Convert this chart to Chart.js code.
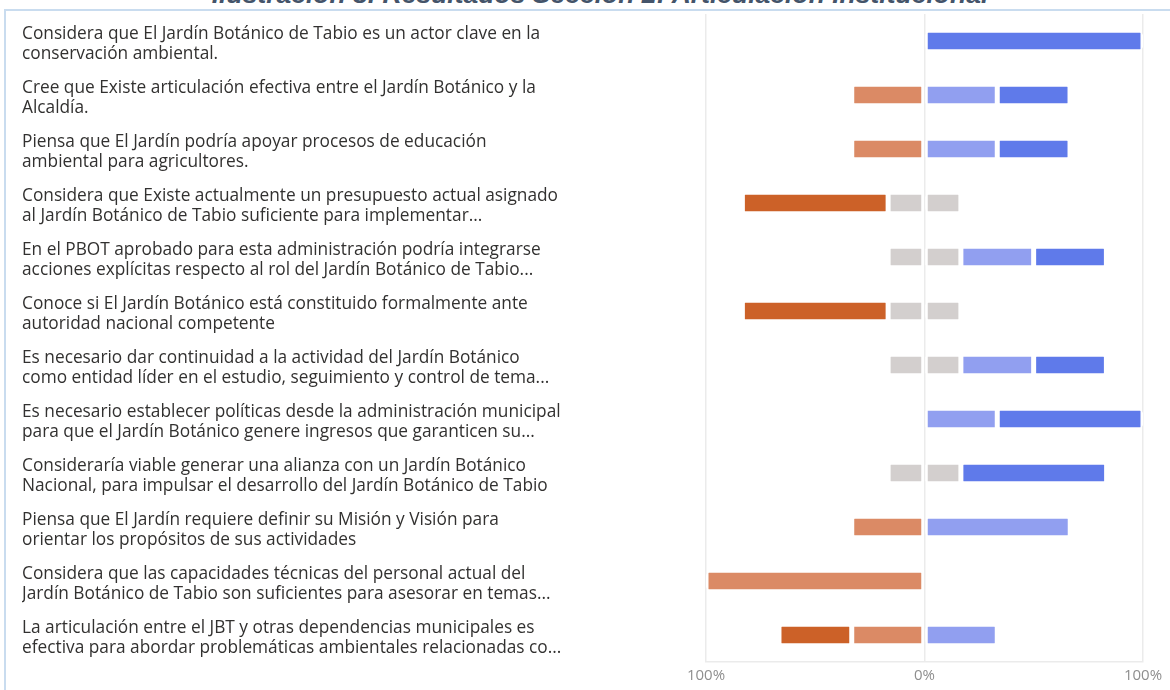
<!DOCTYPE html>
<html>
<head>
<meta charset="utf-8">
<script src="https://cdn.jsdelivr.net/npm/chart.js@4.4.1/dist/chart.umd.min.js"></script>
<style>
  html, body { margin: 0; padding: 0; background: #ffffff; }
  #wrap { position: relative; width: 1170px; height: 690px; overflow: hidden; background: #ffffff; }
  #title { position: absolute; left: 0; top: -19px; width: 1200px; text-align: center;
           font: italic bold 26.5px "Liberation Sans", "DejaVu Sans", sans-serif; line-height: 26px;
           color: #44546a; white-space: nowrap; }
  #frame { position: absolute; left: 4px; top: 9px; width: 1170px; height: 690px;
           border-top: 2px solid #c9dcef; border-left: 2px solid #c9dcef; box-sizing: border-box; background: #ffffff; }
  canvas { position: absolute; left: 0; top: 0; }
</style>
</head>
<body>
<div id="wrap">
  <div id="title">Ilustración 8. Resultados Sección 2: Articulación Institucional</div>
  <div id="frame"></div>
  <canvas id="c" width="1170" height="690"></canvas>
</div>
<script>
// Statements (categories), each split in two display lines
const categories = [
  ["Considera que El Jardín Botánico de Tabio es un actor clave en la", "conservación ambiental."],
  ["Cree que Existe articulación efectiva entre el Jardín Botánico y la", "Alcaldía."],
  ["Piensa que El Jardín podría apoyar procesos de educación", "ambiental para agricultores."],
  ["Considera que Existe actualmente un presupuesto actual asignado", "al Jardín Botánico de Tabio suficiente para implementar..."],
  ["En el PBOT aprobado para esta administración podría integrarse", "acciones explícitas respecto al rol del Jardín Botánico de Tabio..."],
  ["Conoce si El Jardín Botánico está constituido formalmente ante", "autoridad nacional competente"],
  ["Es necesario dar continuidad a la actividad del Jardín Botánico", "como entidad líder en el estudio, seguimiento y control de tema..."],
  ["Es necesario establecer políticas desde la administración municipal", "para que el Jardín Botánico genere ingresos que garanticen su..."],
  ["Consideraría viable generar una alianza con un Jardín Botánico", "Nacional, para impulsar el desarrollo del Jardín Botánico de Tabio"],
  ["Piensa que El Jardín requiere definir su Misión y Visión para", "orientar los propósitos de sus actividades"],
  ["Considera que las capacidades técnicas del personal actual del", "Jardín Botánico de Tabio son suficientes para asesorar en temas..."],
  ["La articulación entre el JBT y otras dependencias municipales es", "efectiva para abordar problemáticas ambientales relacionadas co..."]
];

// Response shares in percent (3 respondents)
const stronglyDisagree = [0, 0, 0, 66.7, 0, 66.7, 0, 0, 0, 0, 0, 33.3];
const disagree         = [0, 33.3, 33.3, 0, 0, 0, 0, 0, 0, 33.3, 100, 33.3];
const neutral          = [0, 0, 0, 33.3, 33.3, 33.3, 33.3, 0, 33.3, 0, 0, 0];
const agree            = [0, 33.3, 33.3, 0, 33.3, 0, 33.3, 33.3, 0, 66.7, 0, 33.3];
const stronglyAgree    = [100, 33.3, 33.3, 0, 33.3, 0, 33.3, 66.7, 66.7, 0, 0, 0];

const xTicks = [-100, 0, 100];

const colors = {
  stronglyDisagree: "#cc6128",
  disagree: "#db8a65",
  neutral: "#d3cfce",
  agree: "#919ff0",
  stronglyAgree: "#5f7aea"
};

const nz = v => (v === 0 ? null : v);
function ds(label, values, sign, color) {
  return {
    label: label,
    data: values.map(v => nz(sign * v)),
    backgroundColor: color,
    borderColor: "#ffffff",
    borderWidth: { left: 2.5, right: 2.5, top: 0, bottom: 0 },
    borderSkipped: false,
    borderRadius: 3,
    barThickness: 17,
    inflateAmount: 0
  };
}

const datasets = [
  ds("Neutral", neutral.map(v => v / 2), -1, colors.neutral),
  ds("En desacuerdo", disagree, -1, colors.disagree),
  ds("Totalmente en desacuerdo", stronglyDisagree, -1, colors.stronglyDisagree),
  ds("Neutral ", neutral.map(v => v / 2), 1, colors.neutral),
  ds("De acuerdo", agree, 1, colors.agree),
  ds("Totalmente de acuerdo", stronglyAgree, 1, colors.stronglyAgree)
];

new Chart(document.getElementById("c"), {
  type: "bar",
  data: { labels: categories, datasets: datasets },
  options: {
    indexAxis: "y",
    responsive: false,
    animation: false,
    layout: { padding: { left: 22, right: 27, top: 14, bottom: 5 } },
    plugins: { legend: { display: false }, tooltip: { enabled: false } },
    scales: {
      x: {
        stacked: true,
        min: -100, max: 100,
        afterBuildTicks: s => { s.ticks = xTicks.map(v => ({ value: v })); },
        afterFit: s => { s.height = 23; s.paddingLeft = 0; s.paddingRight = 0; s.paddingTop = 0; s.paddingBottom = 0; },
        grid: { color: "#ebebeb", lineWidth: 1.5, drawTicks: false },
        border: { display: true, color: "#ebebeb", width: 1.5 },
        ticks: {
          padding: 5,
          color: "#8e8e8e",
          font: { family: "'Open Sans', sans-serif", size: 15 },
          callback: v => Math.abs(v) + "%"
        }
      },
      y: {
        stacked: true,
        afterFit: s => { s.width = 684; s.paddingTop = 0; s.paddingBottom = 0; },
        grid: { display: false },
        border: { display: false },
        ticks: {
          crossAlign: "far",
          labelOffset: 3.5,
          color: "#323130",
          font: { family: "'Open Sans', sans-serif", size: 17.3, lineHeight: "20px" }
        }
      }
    }
  }
});
</script>
</body>
</html>
